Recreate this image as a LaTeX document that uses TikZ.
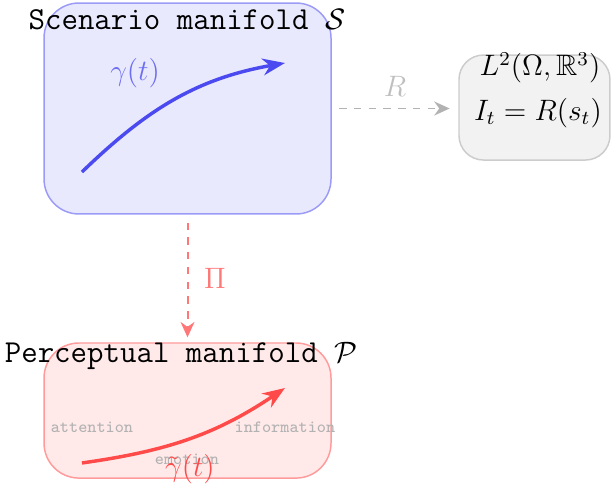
\documentclass[tikz,border=0pt]{standalone}
\usepackage{amsmath,amssymb}
\usepackage{tikz}
\usetikzlibrary{positioning,arrows.meta,calc}
\definecolor{scenblue}{HTML}{4A4AF0}
\definecolor{percred}{HTML}{FF4A4A}
\newcommand{\mlabel}[1]{{\ttfamily\fontsize{13}{15}\selectfont #1}}

\begin{document}
\begin{tikzpicture}[>=Stealth,semithick,
   manifold/.style={draw,semithick,rounded corners=0.5cm,minimum width=4.1cm},
   tag/.style={text=gray!60,font=\ttfamily\fontsize{7}{8}\selectfont},
   path/.style={->,line width=1.4pt,>={Stealth[length=3.2mm,width=2.4mm]}},
   mapto/.style={->,dashed,thick,>={Stealth[length=2.2mm,width=2mm]}}]
  \useasboundingbox (0,0) rectangle (8.729,-6.914);
  % scenario side
  \node[manifold,draw=scenblue!55,fill=scenblue!12,minimum height=3.014cm] (S) at (2.679,-1.55) {};
  \node (Stitle) at (2.67,-0.286) {\mlabel{Scenario manifold $\mathcal{S}$}};
  \coordinate (s0) at (1.171,-2.457);
  \coordinate (s1) at (4.071,-0.9);
  \draw[path,scenblue] (s0) to[out=44,in=190] (s1);
  \node[text=scenblue!80] (gam) at (1.93,-1.043) {\large$\gamma(t)$};
  % rendered image
  \node[draw=gray!40,fill=gray!10,semithick,rounded corners=0.35cm,
        minimum width=2.157cm,minimum height=1.5cm] (img) at (7.636,-1.536) {};
  \node (Lspace) at (7.714,-0.971) {\large$L^2(\Omega,\mathbb{R}^3)$};
  \node (It) at (7.686,-1.614) {\large$I_t = R(s_t)$};
  \draw[mapto,gray!60,shorten <=3pt,shorten >=3.5pt] (S.east) -- (S.east -| img.west)
        node[midway,above=1pt,text=gray!50] (Rlab) {\large$R$};
  % perceptual side
  \node[manifold,draw=percred!55,fill=percred!12,minimum height=1.93cm] (P) at (2.679,-5.865) {};
  \draw[mapto,percred!75,shorten <=3.2pt,shorten >=2pt] (S.south) -- (P.north)
        node[midway,right=3pt,text=percred!75] (Pilab) {\large$\Pi$};
  \node (Ptitle) at (2.586,-5.086) {\mlabel{Perceptual manifold $\mathcal{P}$}};
  \node[tag] (att) at (1.314,-6.1) {attention};
  \node[tag] (inf) at (4.071,-6.1) {information};
  \node[tag] (emo) at (2.671,-6.557) {emotion};
  \coordinate (p0) at (1.171,-6.614);
  \coordinate (p1) at (4.071,-5.543);
  \draw[path,percred] (p0) to[out=8,in=214] (p1);
  \node[text=percred] (pgam) at (2.714,-6.7) {\large$\tilde{\gamma}(t)$};
\end{tikzpicture}
\end{document}
